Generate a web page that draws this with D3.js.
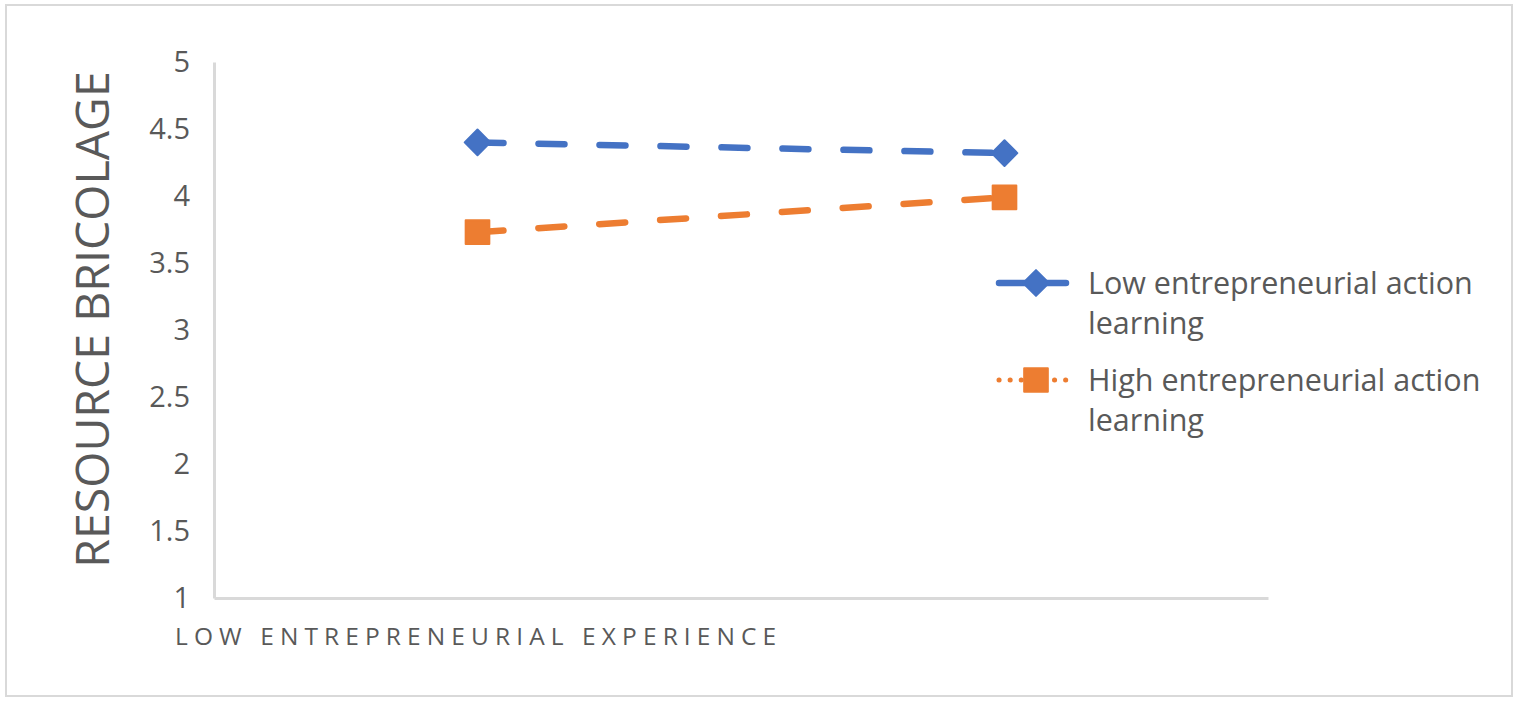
<!DOCTYPE html>
<html>
<head>
<meta charset="utf-8">
<script src="https://cdn.jsdelivr.net/npm/d3@7"></script>
<style>
  body { margin: 0; background: #fff; }
  text { font-family: "Open Sans", Lato, sans-serif; fill: #595959; }
</style>
</head>
<body>
<div class="forSvg"></div>
<script>
// data
const categories = ["Low entrepreneurial experience", "High entrepreneurial experience"];
const lowActionLearning = [4.40, 4.32];
const highActionLearning = [3.73, 3.99];
const seriesNames = ["Low entrepreneurial action learning", "High entrepreneurial action learning"];
const yTicks = [1, 1.5, 2, 2.5, 3, 3.5, 4, 4.5, 5];

const svg_w = 1516;
const svg_h = 702;
// plot area
const plotLeft = 214, plotRight = 1268, plotTop = 62, plotBottom = 598;

const svg = d3.select(".forSvg").append("svg")
  .attr("width", svg_w)
  .attr("height", svg_h);

// outer chart border
svg.append("rect")
  .attr("x", 6).attr("y", 5)
  .attr("width", 1506).attr("height", 691)
  .attr("fill", "#fff")
  .attr("stroke", "#d9d9d9")
  .attr("stroke-width", 2);

const xScale = d3.scalePoint()
  .domain(categories)
  .range([plotLeft, plotRight])
  .padding(0.5);

const yScale = d3.scaleLinear()
  .domain([1, 5])
  .range([plotBottom, plotTop]);

// y axis
const yAxis = d3.axisLeft(yScale)
  .tickValues(yTicks)
  .tickSize(0)
  .tickPadding(24)
  .tickFormat(d => String(d));

const gy = svg.append("g")
  .attr("transform", "translate(" + plotLeft + ",0)")
  .call(yAxis);
gy.select(".domain").attr("stroke", "#d9d9d9").attr("stroke-width", 3);
gy.selectAll("text")
  .style("font-size", "29px")
  .attr("fill", "#595959");

// x axis (no tick labels)
const xAxis = d3.axisBottom(xScale).tickSize(0).tickFormat("");
const gx = svg.append("g")
  .attr("transform", "translate(0," + plotBottom + ")")
  .call(xAxis);
gx.select(".domain").attr("stroke", "#d9d9d9").attr("stroke-width", 3);

// axis titles
svg.append("text")
  .attr("transform", "rotate(-90)")
  .attr("x", -(72 + 567) / 2)
  .attr("y", 109)
  .attr("text-anchor", "middle")
  .style("font-size", "46.5px")
  .text("RESOURCE BRICOLAGE");

svg.append("text")
  .attr("x", 175)
  .attr("y", 645)
  .style("font-size", "24.5px")
  .style("letter-spacing", "6.1px")
  .text("LOW ENTREPRENEURIAL EXPERIENCE");

// lines
const line = d3.line()
  .x((d, i) => xScale(categories[i]))
  .y(d => yScale(d));

const series = [
  { name: seriesNames[0], values: lowActionLearning, color: "#4472C4", marker: d3.symbolDiamond2, size: 420 },
  { name: seriesNames[1], values: highActionLearning, color: "#ED7D31", marker: d3.symbolSquare, size: 560 }
];

series.forEach(s => {
  svg.append("path")
    .datum(s.values)
    .attr("d", line)
    .attr("fill", "none")
    .attr("stroke", s.color)
    .attr("stroke-width", 6.5)
    .attr("stroke-linecap", "round")
    .attr("stroke-dasharray", "26,35");

  svg.selectAll(null)
    .data(s.values)
    .enter()
    .append("path")
    .attr("d", d3.symbol().type(s.marker).size(s.size))
    .attr("transform", (d, i) => "translate(" + xScale(categories[i]) + "," + yScale(d) + ")")
    .attr("fill", s.color)
    .attr("stroke", s.color)
    .attr("stroke-width", 2)
    .attr("stroke-linejoin", "round");
});

// legend
const legendRows = [
  { y: 283, lines: ["Low entrepreneurial action", "learning"], dash: "38,9,20,20", width: 6.5 },
  { y: 380, lines: ["High entrepreneurial action", "learning"], dash: "0.1,11", width: 5 }
];

legendRows.forEach((r, k) => {
  const s = series[k];
  const g = svg.append("g");
  g.append("line")
    .attr("x1", 999).attr("x2", 1076)
    .attr("y1", r.y).attr("y2", r.y)
    .attr("stroke", s.color)
    .attr("stroke-width", r.width)
    .attr("stroke-linecap", "round")
    .attr("stroke-dasharray", r.dash);
  g.append("path")
    .attr("d", d3.symbol().type(s.marker).size(s.size))
    .attr("transform", "translate(1036," + r.y + ")")
    .attr("fill", s.color)
    .attr("stroke", s.color)
    .attr("stroke-width", 2)
    .attr("stroke-linejoin", "round");
  r.lines.forEach((t, j) => {
    g.append("text")
      .attr("x", 1088)
      .attr("y", r.y + 11 + j * 40)
      .style("font-size", "30.5px")
      .text(t);
  });
});
</script>
</body>
</html>
